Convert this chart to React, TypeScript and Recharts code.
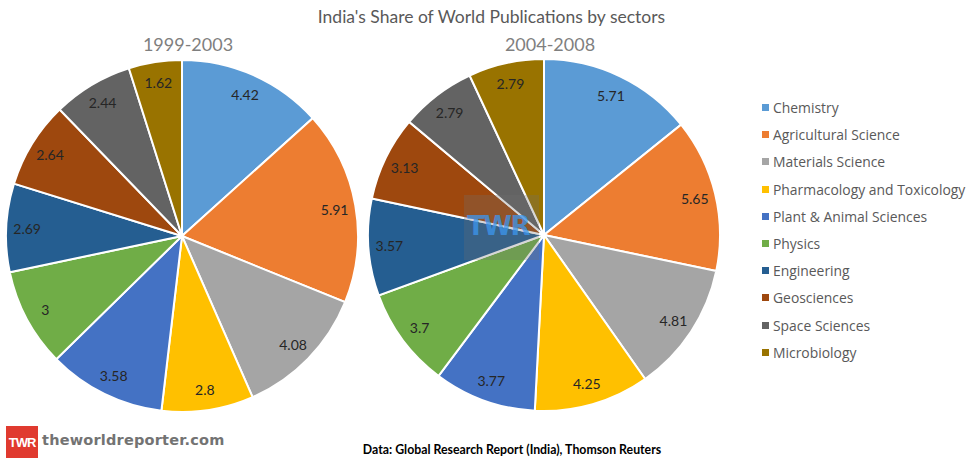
import React from 'react'
import { PieChart, Pie, Cell } from 'recharts'

const SECTORS = [
  'Chemistry',
  'Agricultural Science',
  'Materials Science',
  'Pharmacology and Toxicology',
  'Plant & Animal Sciences',
  'Physics',
  'Engineering',
  'Geosciences',
  'Space Sciences',
  'Microbiology',
]

const SHARE_1999_2003 = [4.42, 5.91, 4.08, 2.8, 3.58, 3, 2.69, 2.64, 2.44, 1.62]
const SHARE_2004_2008 = [5.71, 5.65, 4.81, 4.25, 3.77, 3.7, 3.57, 3.13, 2.79, 2.79]

const PERIODS = ['1999-2003', '2004-2008']

const COLORS = [
  '#5b9bd5', // chemistry
  '#ed7d31', // agri
  '#a5a5a5', // materials
  '#ffc000', // pharma
  '#4472c4', // plant & animal
  '#70ad47', // physics
  '#255e91', // engineering
  '#9e480e', // geo
  '#636363', // space
  '#997300', // micro
]

const left = SECTORS.map((name, i) => ({ name, value: SHARE_1999_2003[i] }))
const right = SECTORS.map((name, i) => ({ name, value: SHARE_2004_2008[i] }))

const RADIAN = Math.PI / 180

const SliceLabel = ({ cx, cy, midAngle, outerRadius, value }: any) => {
  const r = outerRadius - 21
  const x = cx + r * Math.cos(-midAngle * RADIAN)
  const y = cy + r * Math.sin(-midAngle * RADIAN)
  return (
    <text
      x={x}
      y={y}
      fill="#262626"
      textAnchor="middle"
      dominantBaseline="central"
      style={{ fontFamily: 'Lato, sans-serif', fontSize: 14 }}
    >
      {value}
    </text>
  )
}

const SectorLegend = () => (
  <div style={{ position: 'absolute', left: 762, top: 94, width: 210, fontFamily: '"Open Sans", sans-serif', fontSize: 13.9, color: '#595959', whiteSpace: 'nowrap' }}>
    {SECTORS.map((name, i) => (
      <div key={name} style={{ display: 'flex', alignItems: 'center', height: 27.2 }}>
        <span style={{ width: 7, height: 7, background: COLORS[i], marginRight: 4, display: 'inline-block', flexShrink: 0 }} />
        <span>{name}</span>
      </div>
    ))}
  </div>
)

export default function App() {
  return (
    <div style={{ position: 'absolute', left: 0, top: 0, width: 973, height: 464, background: '#fff', overflow: 'hidden' }}>
      <div style={{ position: 'absolute', left: 0, width: 973, top: 6, textAlign: 'center', paddingLeft: 10, boxSizing: 'border-box', fontFamily: 'Lato, sans-serif', fontSize: 17.5, color: '#595959' }}>
        India's Share of World Publications by sectors
      </div>
      {PERIODS.map((p, i) => (
        <div key={p} style={{ position: 'absolute', top: 33, left: i === 0 ? 88 : 450, width: 200, textAlign: 'center', fontFamily: 'Lato, sans-serif', fontSize: 18, color: '#7f7f7f' }}>
          {p}
        </div>
      ))}
      <PieChart width={973} height={464} margin={{ top: 0, right: 0, bottom: 0, left: 0 }} style={{ position: 'absolute', left: 0, top: 0 }}>
        <Pie
          data={left}
          dataKey="value"
          cx={182}
          cy={236}
          outerRadius={176}
          startAngle={90}
          endAngle={-270}
          stroke="#fff"
          strokeWidth={2}
          labelLine={false}
          label={SliceLabel}
          isAnimationActive={false}
        >
          {left.map((d, i) => (
            <Cell key={`l-${i}`} fill={COLORS[i]} />
          ))}
        </Pie>
        <Pie
          data={right}
          dataKey="value"
          cx={544}
          cy={235}
          outerRadius={176}
          startAngle={90}
          endAngle={-270}
          stroke="#fff"
          strokeWidth={2}
          labelLine={false}
          label={SliceLabel}
          isAnimationActive={false}
        >
          {right.map((d, i) => (
            <Cell key={`r-${i}`} fill={COLORS[i]} />
          ))}
        </Pie>
      </PieChart>
      <SectorLegend />
      {/* watermark */}
      <div style={{ position: 'absolute', left: 464, top: 195, width: 75, height: 65, background: 'rgba(110,110,110,0.28)' }} />
      <div style={{ position: 'absolute', left: 467, top: 211, width: 72, fontFamily: '"DejaVu Sans", sans-serif', fontWeight: 'bold', fontSize: 26, color: 'rgba(60,150,240,0.75)', letterSpacing: -1.5 }}>
        TWR
      </div>
      {/* logo */}
      <div style={{ position: 'absolute', left: 6, top: 426, width: 32, height: 32, background: '#e03a2f', color: '#fff', fontFamily: '"Liberation Sans Narrow", "Liberation Sans", sans-serif', fontWeight: 'bold', fontSize: 13, display: 'flex', alignItems: 'center', justifyContent: 'center', letterSpacing: -1 }}>
        TWR
      </div>
      <div style={{ position: 'absolute', left: 42, top: 432, fontFamily: '"DejaVu Sans", sans-serif', fontWeight: 'bold', fontSize: 14.5, color: '#737373', letterSpacing: 0.2 }}>
        theworldreporter.com
      </div>
      <div style={{ position: 'absolute', left: 312, width: 400, top: 442, textAlign: 'center', fontFamily: 'Lato, sans-serif', fontWeight: 'bold', fontSize: 12.3, color: '#000' }}>
        Data: Global Research Report (India), Thomson Reuters
      </div>
    </div>
  )
}
